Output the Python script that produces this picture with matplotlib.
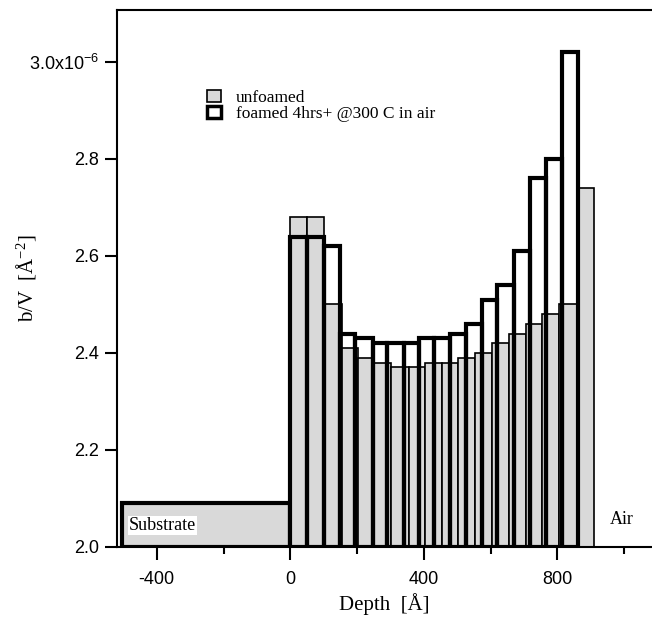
import numpy as np
import matplotlib.pyplot as plt
from matplotlib.patches import Patch
from matplotlib.ticker import FixedLocator, FixedFormatter

plt.rcParams['axes.unicode_minus'] = False

# layer edges [Å] and b/V values [x1e-6 Å^-2]
unfoamed_edges = [0, 51, 102, 154, 204, 252, 302, 354, 404, 454, 503, 553,
                  603, 656, 706, 753, 805, 858, 908]
unfoamed_vals = [2.68, 2.68, 2.50, 2.41, 2.39, 2.38, 2.37, 2.37, 2.38, 2.38,
                 2.39, 2.40, 2.42, 2.44, 2.46, 2.48, 2.50, 2.74]

foamed_edges = [0, 51, 102, 149, 194, 247, 291, 339, 384, 431, 479, 526,
                574, 619, 669, 717, 765, 813, 860]
foamed_vals = [2.64, 2.64, 2.62, 2.44, 2.43, 2.42, 2.42, 2.42, 2.43, 2.43,
               2.44, 2.46, 2.51, 2.54, 2.61, 2.76, 2.80, 3.02]

substrate_x = [-505, 0]
substrate_val = 2.09

yticks = [2.0, 2.2, 2.4, 2.6, 2.8, 3.0]
ytick_labels = ['2.0', '2.2', '2.4', '2.6', '2.8', r'3.0x10$\mathregular{^{-6}}$']
xticks = [-400, 0, 400, 800]
xminor = [-200, 200, 600, 1000]

gray = '#d9d9d9'
serif = 'Liberation Serif'
sans = 'Liberation Sans'

fig = plt.figure(figsize=(6.52, 6.17), dpi=100)
ax = fig.add_axes([0.1794, 0.1135, 0.8206, 0.8703])

base = 2.0

# substrate block
ax.bar(substrate_x[0], substrate_val - base, width=substrate_x[1] - substrate_x[0],
       bottom=base, align='edge', color=gray, edgecolor='black', linewidth=3, zorder=2)

ue = np.array(unfoamed_edges)
ax.bar(ue[:-1], np.array(unfoamed_vals) - base, width=np.diff(ue), bottom=base,
       align='edge', color=gray, edgecolor='black', linewidth=1.2, zorder=2)

fe = np.array(foamed_edges)
ax.bar(fe[:-1], np.array(foamed_vals) - base, width=np.diff(fe), bottom=base,
       align='edge', facecolor='none', edgecolor='black', linewidth=3, zorder=3)

ax.set_xlim(-519, 1083)
ax.set_ylim(2.0, 3.107)

ax.spines['right'].set_visible(False)
for s in ['left', 'top', 'bottom']:
    ax.spines[s].set_linewidth(1.5)

ax.yaxis.set_major_locator(FixedLocator(yticks))
ax.yaxis.set_major_formatter(FixedFormatter(ytick_labels))
ax.xaxis.set_major_locator(FixedLocator(xticks))
ax.xaxis.set_minor_locator(FixedLocator(xminor))
ax.tick_params(axis='both', which='major', direction='out', length=9, width=1.5,
               labelsize=13)
ax.tick_params(axis='x', which='major', pad=8)
ax.tick_params(axis='y', which='major', pad=4)
ax.tick_params(axis='x', which='minor', direction='out', length=5, width=1.5)
for lab in ax.get_xticklabels() + ax.get_yticklabels():
    lab.set_fontfamily(sans)

ax.set_xlabel('Depth  [Å]', fontsize=15, family=serif, labelpad=4)
ax.set_ylabel(r'b/V  [Å$\mathregular{^{-2}}$]', fontsize=15, family=serif)
ax.yaxis.set_label_coords(-0.148, 0.5)

ax.text(-483, 2.044, 'Substrate', fontsize=13, family=serif, va='center', ha='left',
        bbox=dict(facecolor='white', edgecolor='none', pad=0.5), zorder=4)
ax.text(958, 2.056, 'Air', fontsize=13, family=serif, va='center', ha='left')

handles = [Patch(facecolor=gray, edgecolor='black', linewidth=1.2),
           Patch(facecolor='white', edgecolor='black', linewidth=2.5)]
ax.legend(handles, ['unfoamed', 'foamed 4hrs+ @300 C in air'], loc='upper left',
          bbox_to_anchor=(0.14, 0.88), frameon=False, handlelength=0.75,
          handleheight=0.7, handletextpad=0.9, labelspacing=0.0,
          prop={'family': serif, 'size': 12.5})

fig.savefig('out.png', dpi=100)
